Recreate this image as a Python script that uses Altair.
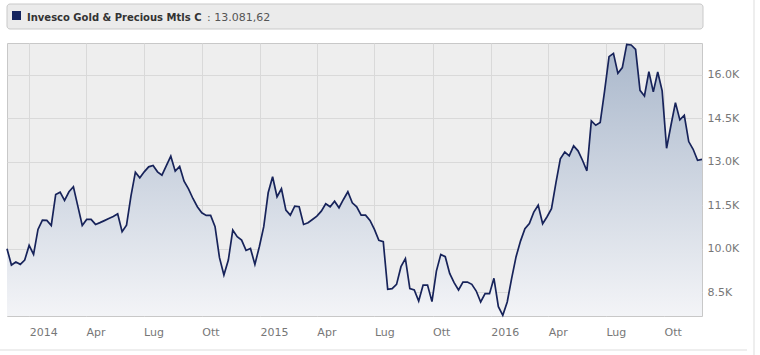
import altair as alt
import pandas as pd

# ---- data (weekly closes) ----
start_date = "2013-11-27"
values = [
    10000, 9435, 9538, 9459, 9607,
    10114, 9803, 10665, 10986, 10976,
    10803, 11872, 11952, 11665,
    11965, 12138, 11470, 10803,
    11010, 11010, 10838, 10900, 10970,
    11040, 11110, 11207, 10586,
    10814, 11814, 12641, 12448,
    12655, 12827, 12872, 12655, 12538,
    12872, 13193, 12676, 12838,
    12331, 12069, 11734, 11448,
    11241, 11148, 11148, 10759, 9690,
    9090, 9607, 10641, 10414,
    10297, 9941, 10010, 9459, 10069,
    10759, 11931, 12483, 11793,
    12069, 11331, 11159, 11469,
    11448, 10838, 10896, 11010,
    11124, 11297, 11552, 11448, 11641,
    11414, 11700, 11965, 11586,
    11448, 11159, 11159, 10976,
    10665, 10286, 10241, 8597, 8621,
    8769, 9379, 9655, 8621,
    8573, 8193, 8745, 8745, 8172,
    9228, 9803, 9724, 9148,
    8828, 8573, 8848, 8848,
    8769, 8538, 8159, 8448, 8448,
    8976, 8000, 7700, 8159,
    8976, 9724, 10262, 10690,
    10872, 11262, 11503, 10862, 11103,
    11379, 12276, 13103, 13340,
    13207, 13552, 13379, 13055,
    12690, 14414, 14262, 14355, 15448,
    16631, 16745, 16055, 16252,
    17055, 17034, 16883, 15469, 15276,
    16114, 15414, 16103, 15448,
    13469, 14272, 15045, 14448,
    14607, 13700, 13434, 13055, 13082,
]
series_name = "Invesco Gold & Precious Mtls C"
last_value_text = ": 13.081,62"

y_ticks = [8500, 10000, 11500, 13000, 14500, 16000]
x_ticks = [(2014, 1), (2014, 4), (2014, 7), (2014, 10),
           (2015, 1), (2015, 4), (2015, 7), (2015, 10),
           (2016, 1), (2016, 4), (2016, 7), (2016, 10)]
month_names = ["Gen", "Feb", "Mar", "Apr", "Mag", "Giu",
               "Lug", "Ago", "Set", "Ott", "Nov", "Dic"]
y_domain = [7676, 17103]

dates = pd.date_range(start_date, periods=len(values), freq="7D")
df = pd.DataFrame({"date": dates, "value": values})

month_arr = "[" + ",".join("'%s'" % m for m in month_names) + "]"
x_label_expr = ("month(datum.value) == 0 ? timeFormat(datum.value, '%Y') : "
                + month_arr + "[month(datum.value)]")

FONT = "DejaVu Sans"
LABEL_COLOR = "#777777"
GRID_COLOR = "#d9d9d9"

x_enc = alt.X(
    "date:T",
    scale=alt.Scale(domain=[alt.DateTime(year=2013, month=11, date=27),
                            alt.DateTime(year=2016, month=11, date=30)]),
    axis=alt.Axis(
        values=[alt.DateTime(year=y, month=m, date=1) for y, m in x_ticks],
        labelExpr=x_label_expr, title=None, ticks=False, domain=False,
        grid=True, gridColor=GRID_COLOR, labelAlign="left", labelPadding=10,
        labelColor=LABEL_COLOR, labelFont=FONT, labelFontSize=11,
        labelFlush=False, labelOverlap=False,
    ),
)
y_enc = alt.Y(
    "value:Q",
    scale=alt.Scale(domain=y_domain, zero=False, nice=False),
    axis=alt.Axis(
        orient="right", values=y_ticks,
        labelExpr="format(datum.value / 1000, '.1f') + 'K'",
        title=None, ticks=False, domain=False, grid=True, gridColor=GRID_COLOR,
        labelPadding=5, labelColor=LABEL_COLOR, labelFont=FONT, labelFontSize=11,
    ),
)

base = alt.Chart(df)
area = base.mark_area(
    clip=True,
    color=alt.Gradient(
        gradient="linear",
        stops=[alt.GradientStop(color="#a9b7cb", offset=0),
               alt.GradientStop(color="#f3f4f7", offset=1)],
        x1=1, x2=1, y1=0, y2=1,
    )
).encode(x=x_enc, y=y_enc, y2=alt.datum(y_domain[0]))
line = base.mark_line(color="#17235a", strokeWidth=1.7).encode(x=x_enc, y=y_enc)

hdr = pd.DataFrame({"name": [series_name], "val": [last_value_text]})
hbase = alt.Chart(hdr)
box = hbase.mark_rect(fill="#ebebeb", stroke="#c9c9c9", strokeWidth=1,
                      cornerRadius=3).encode(
    x=alt.value(0), x2=alt.value(696), y=alt.value(-39), y2=alt.value(-14))
square = hbase.mark_rect(fill="#13235e").encode(
    x=alt.value(5), x2=alt.value(14), y=alt.value(-32), y2=alt.value(-23))
name_txt = hbase.mark_text(align="left", baseline="alphabetic", font=FONT,
                           fontSize=10, fontWeight="bold", color="#333333").encode(
    x=alt.value(20), y=alt.value(-22), text="name:N")
val_txt = hbase.mark_text(align="left", baseline="alphabetic", font=FONT,
                          fontSize=11, color="#555555").encode(
    x=alt.value(200), y=alt.value(-22), text="val:N")
vline = hbase.mark_rule(color="#dddddd").encode(
    x=alt.value(747), y=alt.value(-43), y2=alt.value(312))
hline = hbase.mark_rule(color="#dddddd").encode(
    x=alt.value(-7), x2=alt.value(740), y=alt.value(307))

chart = alt.layer(area, line, box, square, name_txt, val_txt, vline, hline).properties(
    width=695, height=273,
    padding={"left": 7, "top": 43, "right": 58, "bottom": 39},
    autosize="none",
    background="white",
).configure_view(
    fill="#eeeeee", stroke="#c8c8c8", strokeWidth=1,
)

chart.save("out.html", embed_options={"renderer": "svg", "actions": False})
